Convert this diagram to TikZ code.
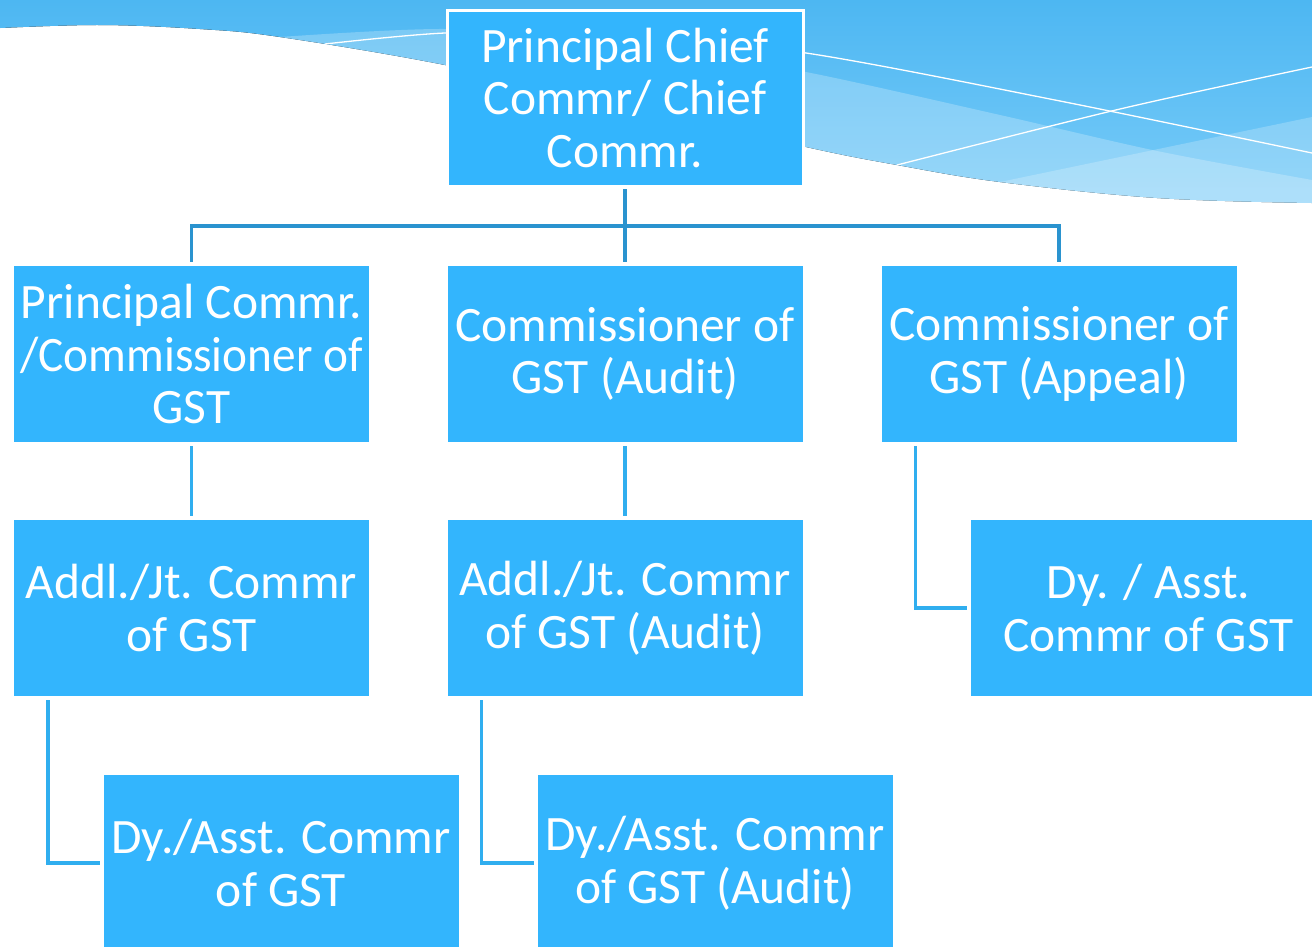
\documentclass[tikz,border=0pt]{standalone}
\usepackage{graphicx}
\usepackage{fontspec}
\setmainfont{Carlito}
\definecolor{boxBlue}{HTML}{33B5FD}
\definecolor{lineDark}{HTML}{2A93CF}
\definecolor{lineLight}{HTML}{30AEEF}
\definecolor{waveTop}{HTML}{4DB7F2}
\definecolor{waveBot}{HTML}{78CBF8}
\begin{document}
\begin{tikzpicture}[x=1pt,y=-1pt,
  box/.style={fill=boxBlue, text=white, minimum width=355pt, minimum height=176pt,
    inner sep=0pt, outer sep=0pt, align=center, font=\fontsize{49.5}{52.5}\selectfont},
  darkconn/.style={draw=lineDark, line width=3.5pt, shorten <=3pt, shorten >=4pt},
  lightconn/.style={draw=lineLight, line width=3.5pt, shorten <=4pt, shorten >=4pt},
  waveline/.style={draw=white, line width=1.3pt}]
\useasboundingbox (0,0) rectangle (1312,946);
\clip (0,0) rectangle (1312,946);

% background waves
\fill[top color=waveTop, bottom color=waveBot] (0,0) -- (0,28) -- plot[smooth, tension=0.6] coordinates {(0,28) (100,25) (200,29) (280,37) (445,65) (625,105) (806,147) (897,165) (1000,182) (1157,198) (1312,203)} -- (1312,0) -- cycle;
\begin{scope}
  \clip (0,0) -- (0,28) -- plot[smooth, tension=0.6] coordinates {(0,28) (100,25) (200,29) (280,37) (445,65) (625,105) (806,147) (897,165) (1000,182) (1157,198) (1312,203)} -- (1312,0) -- cycle;
  \fill[white, opacity=0.24] (280,37) -- plot[smooth] coordinates {(280,37) (445,29) (620,40) (806,72) (1000,115) (1157,151) (1312,180)} -- (1312,300) -- (200,300) -- cycle;
  \fill[white, opacity=0.22] (880,207) -- (1312,117) -- (1312,300) -- (880,300) -- cycle;
\end{scope}
\draw[waveline] plot[smooth] coordinates {(325,44) (445,33) (600,32) (806,53) (1060,101) (1312,153)};
\draw[waveline] plot[smooth] coordinates {(897,165) (1120,109) (1312,67)};

% boxes
\node[box, draw=white, line width=3pt, minimum width=356pt] (top) at (625,98) {Principal Chief\\Commr/ Chief\\Commr.};
\node[box] (b1) at (191.5,354) {Principal Commr.\\\makebox[340pt]{\scalebox{0.955}[1]{/Commissioner of}}\\GST};
\node[box] (b2) at (625,354) {Commissioner of\\GST (Audit)};
\node[box] (b3) at (1059,354) {Commissioner of\\GST (Appeal)};
\node[box] (c1) at (191.5,608) {Addl./Jt. Commr\\of GST};
\node[box] (c2) at (625,608) {Addl./Jt. Commr\\of GST (Audit)};
\node[box] (c3) at (1148.5,608) {Dy. / Asst.\\Commr of GST};
\node[box] (d1) at (281,863) {Dy./Asst. Commr\\of GST};
\node[box] (d2) at (715,863) {Dy./Asst. Commr\\of GST (Audit)};

% connectors
\draw[darkconn] (top.south) -- (b2.north);
\draw[darkconn] (top.south) -- ++(0,40) -| (b1.north);
\draw[darkconn] (top.south) -- ++(0,40) -| (b3.north);
\draw[lightconn] (b1.south) -- (c1.north);
\draw[lightconn] (b2.south) -- (c2.north);
\draw[lightconn] ([xshift=34pt]b3.south west) |- (c3.west);
\draw[lightconn] ([xshift=34pt]c1.south west) |- (d1.west);
\draw[lightconn] ([xshift=34pt]c2.south west) |- (d2.west);
\end{tikzpicture}
\end{document}
